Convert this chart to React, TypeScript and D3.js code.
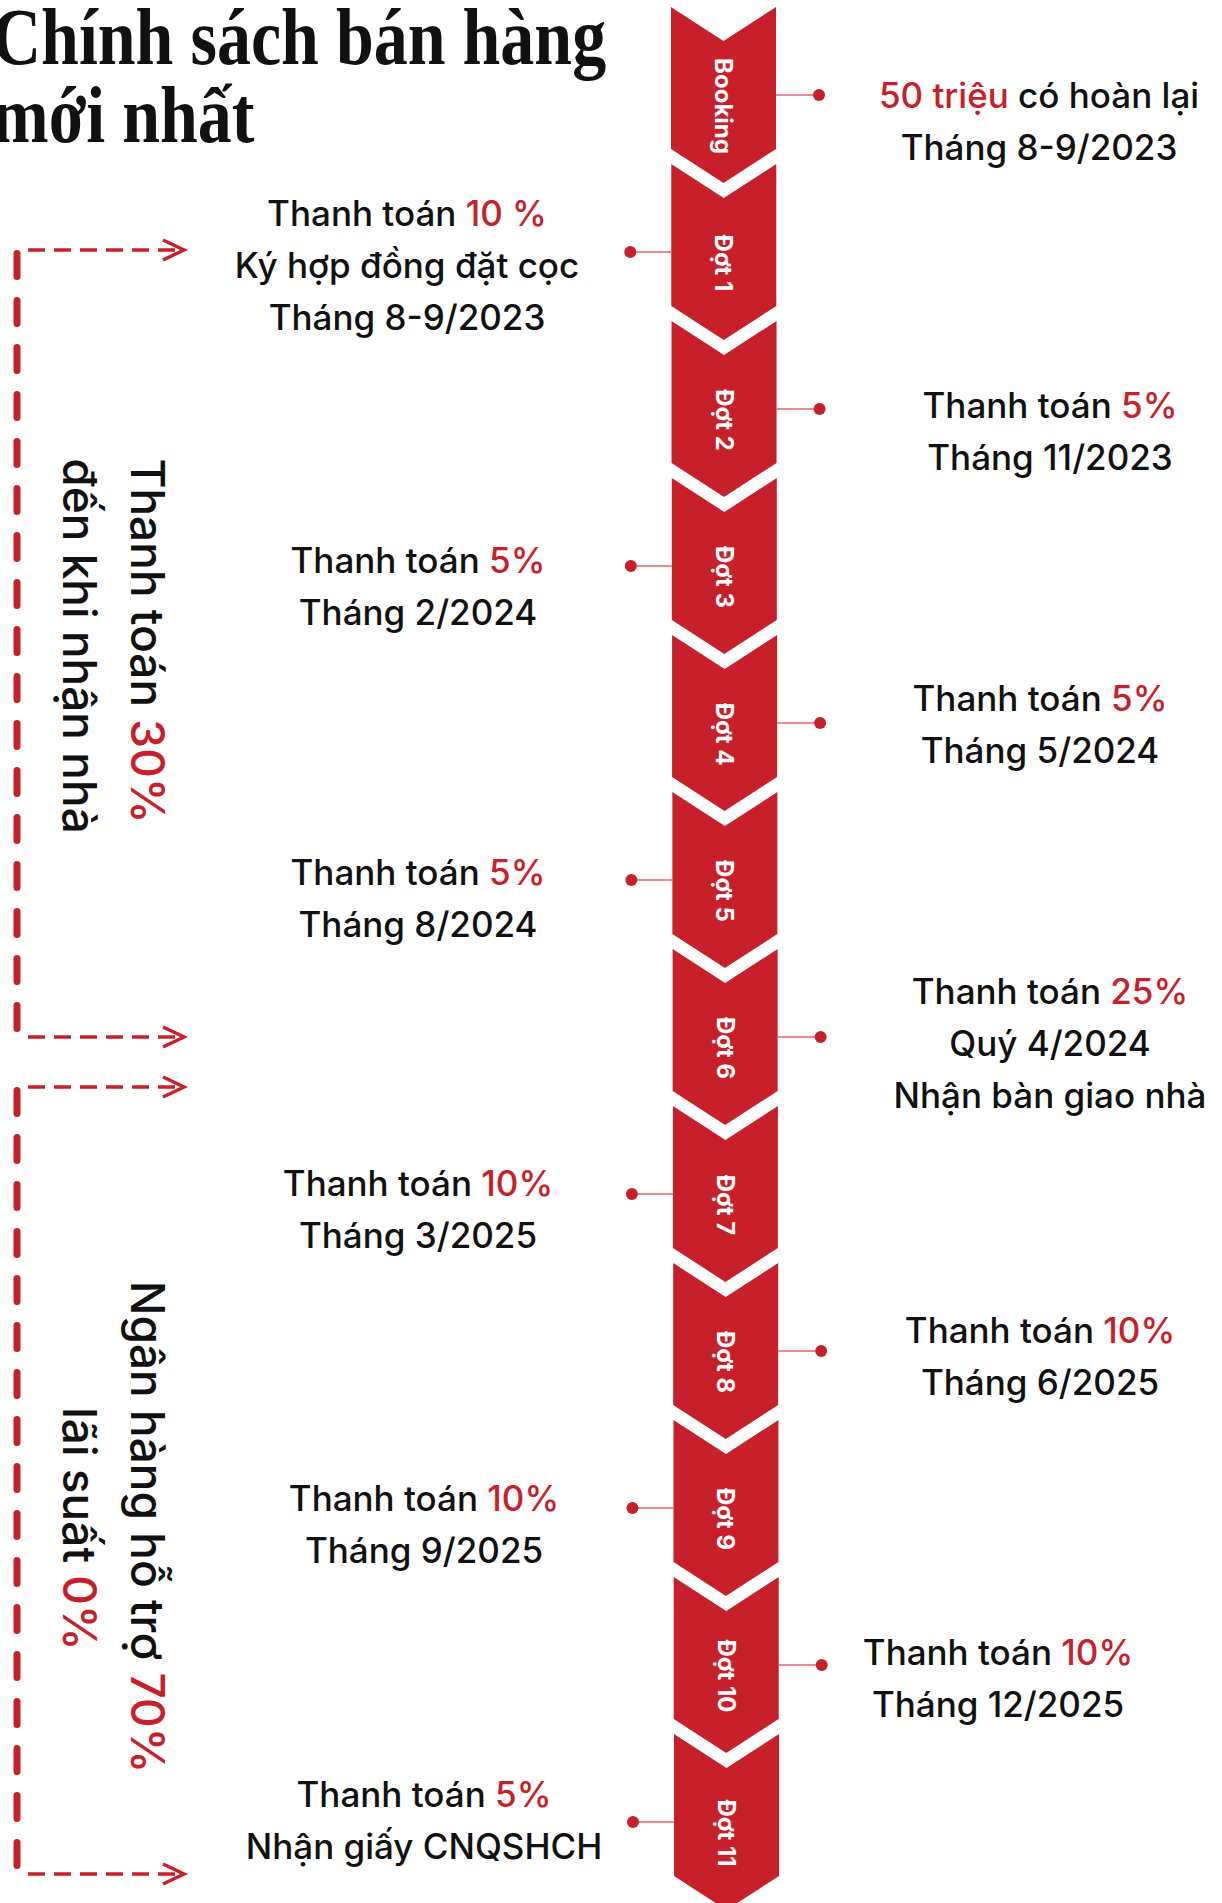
import * as d3 from "d3";

// payment stages, top to bottom
const stages = ["Booking", "Đợt 1", "Đợt 2", "Đợt 3", "Đợt 4", "Đợt 5", "Đợt 6", "Đợt 7", "Đợt 8", "Đợt 9", "Đợt 10", "Đợt 11"];
const headPrefix = ["", "Thanh toán ", "Thanh toán ", "Thanh toán ", "Thanh toán ", "Thanh toán ", "Thanh toán ", "Thanh toán ", "Thanh toán ", "Thanh toán ", "Thanh toán ", "Thanh toán "];
const headAmount = ["50 triệu", "10 %", "5%", "5%", "5%", "5%", "25%", "10%", "10%", "10%", "10%", "5%"];
const headSuffix = [" có hoàn lại", "", "", "", "", "", "", "", "", "", "", ""];
const notes = [
  ["Tháng 8-9/2023"],
  ["Ký hợp đồng đặt cọc", "Tháng 8-9/2023"],
  ["Tháng 11/2023"],
  ["Tháng 2/2024"],
  ["Tháng 5/2024"],
  ["Tháng 8/2024"],
  ["Quý 4/2024", "Nhận bàn giao nhà"],
  ["Tháng 3/2025"],
  ["Tháng 6/2025"],
  ["Tháng 9/2025"],
  ["Tháng 12/2025"],
  ["Nhận giấy CNQSHCH"],
];

// the two brackets on the left
const groupLine1 = ["Thanh toán ", "Ngân hàng hỗ trợ "];
const groupPct = ["30%", "70%"];
const groupLine2 = ["đến khi nhận nhà", ""];
const groupLine2Pre = ["", "lãi suất "];
const groupLine2Pct = ["", "0%"];

const titleLines = ["Chính sách bán hàng", "mới nhất"];

// layout
const W = 1222;
const H = 1903;
const RED = "#c8202a";
const LINE = "#e2646a";
const FONT = "Inter, 'Noto Sans', sans-serif";
const labelX = [1039, 407, 1050, 418, 1040, 418, 1050, 418, 1040, 424, 998, 424];
const labelDy = [0, -39, -4, -6, -25, -8, -46, -11, -21, -10, -13, -28];
const bracketY = [[250, 1037], [1087, 1874]];
const groupCy = [[641, 646], [1527, 1529]];

export default function App() {
  const y0 = d3.scaleLinear().domain([0, stages.length - 1]).range([7, 7 + 157 * (stages.length - 1)]);
  const xShift = d3.scaleLinear().domain([0, stages.length - 1]).range([0, 3]);
  const segW = 105;
  const notch = 34;
  const segH = 142;
  const left0 = 671;

  const chevron = (i: number) => {
    const L = left0 + xShift(i);
    const R = L + segW;
    const C = (L + R) / 2;
    const t = y0(i);
    const p = d3.path();
    p.moveTo(L, t);
    p.lineTo(C, t + notch);
    p.lineTo(R, t);
    p.lineTo(R, t + segH);
    p.lineTo(C, t + segH + notch);
    p.lineTo(L, t + segH);
    p.closePath();
    return p.toString();
  };

  const lineH = 52;
  const fs = 35;

  return (
    <svg width={W} height={H} style={{ position: "absolute", left: 0, top: 0, background: "#fff" }}>
      {/* title */}
      <g fontFamily="'Liberation Serif', 'Times New Roman', serif" fontWeight={700} fontSize={80} fill="#111">
        {titleLines.map((t, i) => (
          <text key={t} transform={`translate(-8, ${64 + i * 78}) scale(0.85, 1)`}>{t}</text>
        ))}
      </g>

      {/* chevrons */}
      {stages.map((s, i) => {
        const L = left0 + xShift(i);
        const C = L + segW / 2;
        const t = y0(i);
        return (
          <g key={s}>
            <path d={chevron(i)} fill={RED} />
            <text
              transform={`translate(${C}, ${t + 99}) rotate(90)`}
              textAnchor="middle"
              dominantBaseline="central"
              fill="#fff"
              fontFamily={FONT}
              fontWeight={700}
              fontSize={24}
            >
              {s}
            </text>
          </g>
        );
      })}

      {/* connectors + labels */}
      {stages.map((s, i) => {
        const L = left0 + xShift(i);
        const R = L + segW;
        const dy = y0(i) + 88;
        const right = i % 2 === 0;
        const dotX = right ? R + 43 : L - 41;
        const first = dy + labelDy[i];
        return (
          <g key={"l" + s}>
            <line x1={right ? R : dotX} x2={right ? dotX : L} y1={dy} y2={dy} stroke={LINE} strokeWidth={1.5} />
            <circle cx={dotX} cy={dy} r={6} fill={RED} />
            <g fontFamily={FONT} fontWeight={500} fontSize={fs} fill="#111" textAnchor="middle" style={{ whiteSpace: "pre" }}>
              <text x={labelX[i]} y={first + fs * 0.36}>
                {headPrefix[i] && <tspan>{headPrefix[i]}</tspan>}
                <tspan fill={RED}>{headAmount[i]}</tspan>
                {headSuffix[i] && <tspan>{headSuffix[i]}</tspan>}
              </text>
              {notes[i].map((n, k) => (
                <text key={n + k} x={labelX[i]} y={first + (k + 1) * lineH + fs * 0.36}>
                  {n}
                </text>
              ))}
            </g>
          </g>
        );
      })}

      {/* brackets */}
      {bracketY.map(([a, b], g) => (
        <g key={"b" + g}>
          <line x1={17} x2={17} y1={a + 3.5} y2={b - 3.5} stroke={RED} strokeWidth={7} strokeLinecap="round" strokeDasharray="23 24" />
          {[a, b].map((y) => (
            <g key={y} stroke={RED} fill="none" strokeWidth={3.5}>
              <line x1={28} x2={181} y1={y} y2={y} strokeDasharray="17 9" />
              <polyline points={`163,${y - 10} 184,${y} 163,${y + 10}`} strokeLinejoin="miter" />
            </g>
          ))}
          <g fontFamily={FONT} fontWeight={500} fontSize={46} fill="#111" textAnchor="middle" style={{ whiteSpace: "pre" }}>
            <text transform={`translate(131, ${groupCy[g][0]}) rotate(90)`}>
              <tspan>{groupLine1[g]}</tspan>
              <tspan fill={RED}>{groupPct[g]}</tspan>
            </text>
            <text transform={`translate(63, ${groupCy[g][1]}) rotate(90)`}>
              {groupLine2[g] && <tspan>{groupLine2[g]}</tspan>}
              {groupLine2Pre[g] && <tspan>{groupLine2Pre[g]}</tspan>}
              {groupLine2Pct[g] && <tspan fill={RED}>{groupLine2Pct[g]}</tspan>}
            </text>
          </g>
        </g>
      ))}
    </svg>
  );
}
